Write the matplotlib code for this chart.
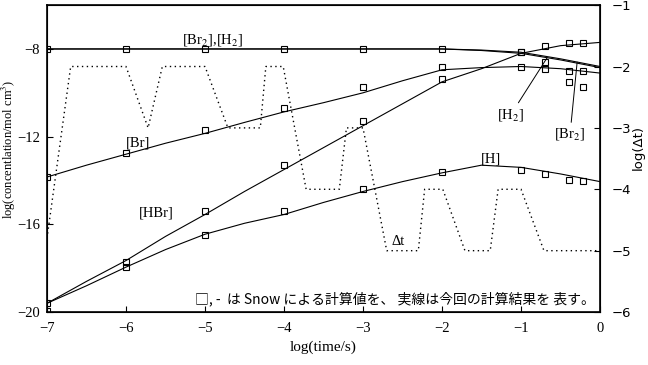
import numpy as np
from matplotlib import pyplot as plt

plt.rcParams['font.family'] = ['Liberation Serif', 'DejaVu Serif']
plt.rcParams['mathtext.fontset'] = 'stix'

# calculated curves (solid lines), log(time/s)
t_calc = [-7, -6.5, -6, -5.5, -5, -4.5, -4, -3.5, -3, -2.5, -2, -1.5, -1, -0.5, 0]
br_calc = [-13.84, -13.3, -12.8, -12.3, -11.85, -11.35, -10.87, -10.45, -10.0,
           -9.45, -8.95, -8.85, -8.8, -8.9, -9.1]
hbr_calc = [-19.6, -18.6, -17.65, -16.55, -15.55, -14.5, -13.5, -12.5, -11.5,
            -10.5, -9.5, -8.9, -8.2, -7.85, -7.7]
h_calc = [-19.6, -18.8, -17.95, -17.15, -16.45, -15.95, -15.55, -15.0, -14.5,
          -14.05, -13.65, -13.3, -13.4, -13.7, -14.05]
h2_calc = [-8, -8, -8, -8, -8, -8, -8, -8, -8, -8, -8, -8.05, -8.15, -8.45, -8.8]
br2_calc = [-8, -8, -8, -8, -8, -8, -8, -8, -8, -8, -8, -8.07, -8.2, -8.5, -8.85]

# Snow's values (squares)
t_snow = [-7, -6, -5, -4, -3, -2, -1, -0.699, -0.398, -0.222]
br2h2_snow = [-8, -8, -8, -8, -8, -8, -8.13, -8.58, -9.5, -9.73]
br_snow = [-13.84, -12.74, -11.7, -10.7, -9.73, -8.8, -8.8, -8.9, -9.0, -9.0]
hbr_snow = [-19.6, -17.7, -15.4, -13.3, -11.3, -9.35, -8.13, -7.85, -7.72, -7.72]
h_snow = [-19.95, -17.95, -16.5, -15.4, -14.4, -13.6, -13.5, -13.7, -13.97, -14.0]

# time step log(dt)
t_dt = [-7, -6.7, -6.0, -5.72, -5.54, -5.0, -4.71, -4.30, -4.23, -4.01, -3.72,
        -3.30, -3.21, -3.0, -2.70, -2.30, -2.22, -1.99, -1.71, -1.39, -1.29,
        -1.0, -0.71, 0]
log_dt = [-4.8, -2, -2, -3, -2, -2, -3, -3, -2, -2, -4, -4, -3, -3, -5, -5,
          -4, -4, -5, -5, -4, -4, -5, -5]

note = "□, -  は Snow による計算値を、 実線は今回の計算結果を 表す。"

fig = plt.figure(figsize=(6.48, 3.65), dpi=100)
ax = fig.add_axes([0.0725, 0.145, 0.8535, 0.841])
ax2 = ax.twinx()

lw = 0.8
for y in [br_calc, hbr_calc, h_calc, h2_calc, br2_calc]:
    ax.plot(t_calc, y, color='k', lw=lw)
sq = dict(ls='none', marker='s', ms=4.5, mfc='none', mec='k', mew=0.8)
for y in [br2h2_snow, br_snow, hbr_snow, h_snow]:
    ax.plot(t_snow, y, **sq)

ax2.plot(t_dt, log_dt, color='k', lw=1.0, ls=(0, (1, 2.5)))

ax.set_xlim(-7, 0)
ax.set_ylim(-20, -6)
ax2.set_ylim(-6, -1)
ax.set_xticks(range(-7, 1))
ax.set_yticks([-20, -16, -12, -8])
ax2.set_yticks(range(-6, 0))
ax.tick_params(direction='in', length=4, labelsize=10.5, pad=7)
ax.tick_params(axis='y', pad=5)
ax2.tick_params(direction='in', length=4, labelsize=10.5, pad=8)
for lab in ax2.get_yticklabels():
    lab.set_family('DejaVu Sans')
    lab.set_fontsize(9.5)
for sp in ax.spines.values():
    sp.set_linewidth(1.2)

ax.set_xlabel('log(time/s)', fontsize=11, labelpad=4)
ax.set_ylabel('log(concentlation/mol cm$^3$)', fontsize=9)
ax.yaxis.set_label_coords(-0.052, 0.53)
ax2.set_ylabel('log(Δt)', family='DejaVu Sans', fontsize=9.5)
ax2.yaxis.set_label_coords(1.058, 0.535)

fs = 10.5
ax.text(-4.9, -7.6, '[Br$_2$],[H$_2$]', fontsize=fs, ha='center', va='center')
ax.text(-5.85, -12.3, '[Br]', fontsize=fs, ha='center', va='center')
ax.text(-5.62, -15.5, '[HBr]', fontsize=fs, ha='center', va='center')
ax.text(-1.38, -13.0, '[H]', fontsize=fs, ha='center', va='center')
ax.text(-2.55, -16.8, 'Δt', fontsize=fs, ha='center', va='center')
ax.annotate('[H$_2$]', xy=(-0.67, -8.4), xytext=(-1.13, -11.0), fontsize=fs,
            ha='center', va='center',
            arrowprops=dict(arrowstyle='-', lw=0.7, color='k', shrinkA=1, shrinkB=0))
ax.annotate('[Br$_2$]', xy=(-0.29, -8.6), xytext=(-0.38, -11.9), fontsize=fs,
            ha='center', va='center',
            arrowprops=dict(arrowstyle='-', lw=0.7, color='k', shrinkA=1, shrinkB=0))
ax.text(-5.13, -19.38, note, fontsize=10, ha='left', va='center',
        family=['Noto Sans CJK JP', 'DejaVu Sans'])

fig.savefig('out.png', dpi=100)
